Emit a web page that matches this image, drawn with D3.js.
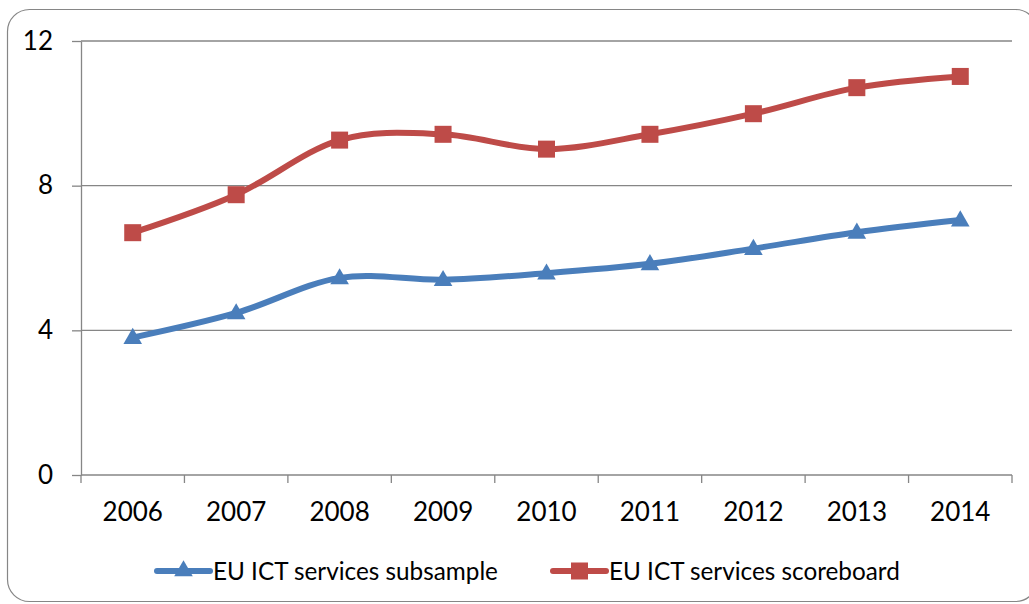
<!DOCTYPE html>
<html>
<head>
<meta charset="utf-8">
<script src="https://cdn.jsdelivr.net/npm/d3@7"></script>
<style>
  html, body { margin: 0; padding: 0; background: #fff; }
  svg { display: block; }
  text { font-family: Lato, "Open Sans", sans-serif; fill: #000; }
</style>
</head>
<body>
<svg id="chart" width="1029" height="604"></svg>
<script>
const years = ["2006", "2007", "2008", "2009", "2010", "2011", "2012", "2013", "2014"];
const subsample = [3.80, 4.48, 5.45, 5.40, 5.58, 5.84, 6.26, 6.71, 7.05];
const scoreboard = [6.70, 7.75, 9.26, 9.42, 9.01, 9.42, 9.99, 10.71, 11.02];
const yTicks = [0, 4, 8, 12];
const seriesNames = ["EU ICT services subsample", "EU ICT services scoreboard"];

const svg = d3.select("#chart");
const W = 1029, H = 604;
const margin = { left: 81, right: 17, top: 41, bottom: 129 };
const grey = "#868686";
const blue = "#4A7EBB";
const red = "#BE4B48";

// outer chart frame
svg.append("rect")
  .attr("x", 7.5).attr("y", 9.5)
  .attr("width", 1030).attr("height", 592)
  .attr("rx", 22).attr("ry", 22)
  .attr("fill", "#fff").attr("stroke", grey).attr("stroke-width", 1.2);

const x = d3.scaleBand().domain(years).range([margin.left, W - margin.right]).paddingInner(0).paddingOuter(0);
const y = d3.scaleLinear().domain([0, 12]).range([H - margin.bottom, margin.top]);

// horizontal gridlines
svg.append("g")
  .selectAll("line")
  .data(yTicks.filter(d => d > 0))
  .join("line")
  .attr("x1", margin.left).attr("x2", W - margin.right)
  .attr("y1", d => y(d)).attr("y2", d => y(d))
  .attr("stroke", grey).attr("stroke-width", 1.3);

// y axis
const yAxis = svg.append("g")
  .attr("transform", `translate(${margin.left},0)`)
  .call(d3.axisLeft(y).tickValues(yTicks).tickSize(9).tickPadding(19).tickSizeOuter(0));
yAxis.select(".domain").attr("stroke", grey).attr("stroke-width", 1.3);
yAxis.selectAll(".tick line").attr("stroke", grey).attr("stroke-width", 1.3);
yAxis.selectAll(".tick text")
  .attr("font-size", 26).attr("fill", "#000")
  .style("font-family", "Lato, 'Open Sans', sans-serif");

// x axis: ticks at band boundaries, labels centered in bands
const xg = svg.append("g").attr("transform", `translate(0,${y(0)})`);
xg.append("line")
  .attr("x1", margin.left).attr("x2", W - margin.right)
  .attr("stroke", grey).attr("stroke-width", 1.3);
const bounds = years.map(d => x(d)).concat([x(years[years.length - 1]) + x.bandwidth()]);
xg.selectAll("line.tk")
  .data(bounds)
  .join("line").attr("class", "tk")
  .attr("x1", d => d).attr("x2", d => d)
  .attr("y1", 0).attr("y2", 8)
  .attr("stroke", grey).attr("stroke-width", 1.3);
xg.selectAll("text")
  .data(years)
  .join("text")
  .attr("x", d => x(d) + x.bandwidth() / 2)
  .attr("y", 46)
  .attr("text-anchor", "middle")
  .attr("font-size", 26)
  .text(d => d);

const cx = d => x(d) + x.bandwidth() / 2;
const line = d3.line().x(d => cx(d.year)).y(d => y(d.value)).curve(d3.curveCardinal.tension(0));

const triangle = d3.symbol().type(d3.symbolTriangle).size(150);

function drawSeries(values, color, marker) {
  const pts = years.map((yr, i) => ({ year: yr, value: values[i] }));
  svg.append("path")
    .datum(pts)
    .attr("d", line)
    .attr("fill", "none")
    .attr("stroke", color)
    .attr("stroke-width", 6)
    .attr("stroke-linejoin", "round")
    .attr("stroke-linecap", "round");
  const g = svg.append("g");
  if (marker === "square") {
    g.selectAll("rect").data(pts).join("rect")
      .attr("x", d => cx(d.year) - 8.5).attr("y", d => y(d.value) - 8.5)
      .attr("width", 17).attr("height", 17)
      .attr("fill", color);
  } else {
    g.selectAll("path").data(pts).join("path")
      .attr("transform", d => `translate(${cx(d.year)},${y(d.value) + 1})`)
      .attr("d", triangle)
      .attr("fill", color);
  }
}

drawSeries(subsample, blue, "triangle");
drawSeries(scoreboard, red, "square");

// legend
const legendItems = [
  { name: seriesNames[0], color: blue, marker: "triangle", x0: 157 },
  { name: seriesNames[1], color: red, marker: "square", x0: 553 }
];
const ly = 571;
const lg = svg.append("g");
legendItems.forEach(it => {
  lg.append("line")
    .attr("x1", it.x0).attr("x2", it.x0 + 53)
    .attr("y1", ly).attr("y2", ly)
    .attr("stroke", it.color).attr("stroke-width", 6).attr("stroke-linecap", "round");
  const mx = it.x0 + 26.5;
  if (it.marker === "square") {
    lg.append("rect").attr("x", mx - 8.5).attr("y", ly - 8.5).attr("width", 17).attr("height", 17).attr("fill", it.color);
  } else {
    lg.append("path").attr("transform", `translate(${mx},${ly})`).attr("d", triangle).attr("fill", it.color);
  }
  lg.append("text")
    .attr("x", it.x0 + 56).attr("y", ly + 8.5)
    .attr("font-size", 24.3)
    .text(it.name);
});
</script>
</body>
</html>
